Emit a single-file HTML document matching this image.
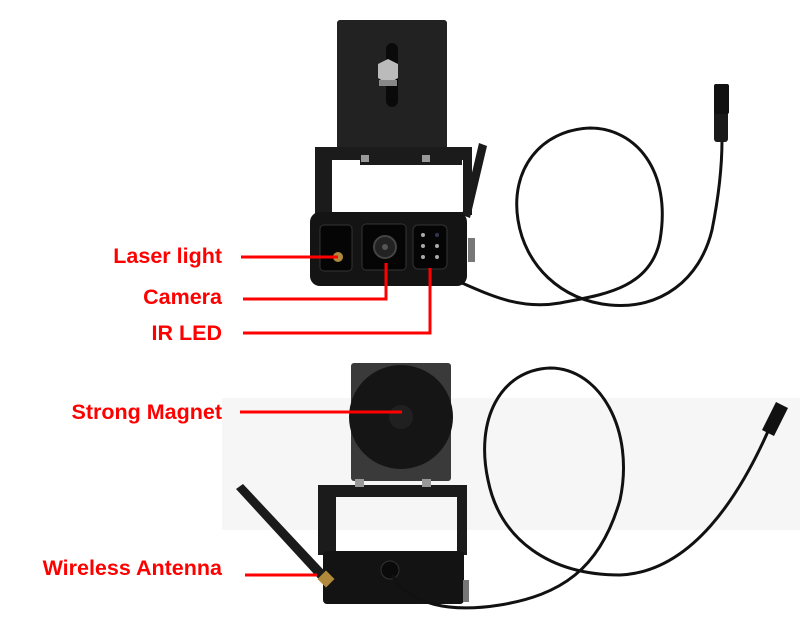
<!DOCTYPE html>
<html><head><meta charset="utf-8"><style>
html,body{margin:0;padding:0;background:#fff;}
svg{display:block}
text{font-family:"Liberation Sans",Arial,sans-serif;font-weight:bold;fill:#f00;font-size:21.5px}
</style></head><body>
<svg width="800" height="627" viewBox="0 0 800 627" xmlns="http://www.w3.org/2000/svg">
<rect x="222" y="398" width="578" height="132" fill="#f6f6f6"/>
<!-- TOP CAMERA -->
<rect x="337" y="20" width="110" height="132" rx="3" fill="#222"/>
<rect x="386" y="43" width="12" height="64" rx="6" fill="#0a0a0a"/>
<polygon points="378,64 388,59 398,64 398,78 388,84 378,78" fill="#bbb"/>
<rect x="379" y="80" width="18" height="6" fill="#888"/>
<polygon points="479,143 487,146 470,218 462,215" fill="#1a1a1a"/>
<path d="M315,147 H472 V215 H315 Z M332,160 V212 H463 V160 Z" fill="#1b1b1b" fill-rule="evenodd"/>
<rect x="360" y="152" width="102" height="13" fill="#1b1b1b"/>
<rect x="361" y="155" width="8" height="7" fill="#999"/>
<rect x="422" y="155" width="8" height="7" fill="#999"/>
<rect x="310" y="212" width="157" height="74" rx="10" fill="#141414"/>
<rect x="468" y="238" width="7" height="24" fill="#777"/>
<rect x="320" y="225" width="32" height="46" rx="4" fill="#050505" stroke="#333"/>
<circle cx="338" cy="257" r="5" fill="#b08a3a"/>
<rect x="362" y="224" width="44" height="46" rx="4" fill="#050505" stroke="#333"/>
<circle cx="385" cy="247" r="11" fill="#222" stroke="#444" stroke-width="2"/>
<circle cx="385" cy="247" r="3" fill="#555"/>
<rect x="413" y="225" width="34" height="44" rx="5" fill="#050505" stroke="#333"/>
<g fill="#aaa"><circle cx="423" cy="235" r="2"/><circle cx="423" cy="246" r="2"/><circle cx="437" cy="246" r="2"/><circle cx="423" cy="257" r="2"/><circle cx="437" cy="257" r="2"/><circle cx="437" cy="235" r="2" fill="#335"/></g>
<path d="M462,283 C490,295 520,310 560,303 C600,295 650,290 660,240 C672,170 635,128 590,128 C540,130 510,170 518,220 C525,265 560,300 610,305 C660,310 700,280 712,230 C720,190 722,160 722,140" fill="none" stroke="#111" stroke-width="3"/>
<rect x="714" y="110" width="14" height="32" rx="3" fill="#1a1a1a"/>
<rect x="714" y="84" width="15" height="30" rx="2" fill="#111"/>
<!-- BOTTOM CAMERA -->
<rect x="351" y="363" width="100" height="118" rx="3" fill="#3a3a3a"/>
<circle cx="401" cy="417" r="52" fill="#151515"/>
<circle cx="401" cy="417" r="12" fill="#202020"/>
<path d="M318,485 H467 V555 H318 Z M336,497 V552 H457 V497 Z" fill="#1b1b1b" fill-rule="evenodd"/>
<rect x="355" y="479" width="9" height="8" fill="#999"/>
<rect x="422" y="479" width="9" height="8" fill="#999"/>
<rect x="323" y="551" width="141" height="53" rx="4" fill="#131313"/>
<rect x="463" y="580" width="6" height="22" fill="#777"/>
<circle cx="390" cy="570" r="9" fill="#0a0a0a" stroke="#333"/>
<polygon points="236,489 243,484 333,580 326,587" fill="#1a1a1a"/>
<rect x="320" y="573" width="12" height="12" fill="#b08a3a" transform="rotate(45 326 579)"/>
<path d="M392,575 C410,605 450,613 500,605 C560,595 600,570 620,500 C635,430 600,368 550,368 C500,370 475,420 488,480 C500,540 550,575 620,575 C690,572 740,500 775,415" fill="none" stroke="#111" stroke-width="3"/>
<polygon points="762,430 776,402 788,408 774,436" fill="#111"/>
<!-- labels -->
<text x="222" y="263" text-anchor="end">Laser light</text>
<text x="222" y="304" text-anchor="end">Camera</text>
<text x="222" y="340" text-anchor="end">IR LED</text>
<text x="222" y="419" text-anchor="end">Strong Magnet</text>
<text x="222" y="575" text-anchor="end">Wireless Antenna</text>
<g stroke="#f00" stroke-width="3" fill="none">
<path d="M241,257 H338"/>
<path d="M243,299 H386 V263"/>
<path d="M243,333 H430 V268"/>
<path d="M240,412 H402"/>
<path d="M245,575 H317"/>
</g>
</svg>
</body></html>
